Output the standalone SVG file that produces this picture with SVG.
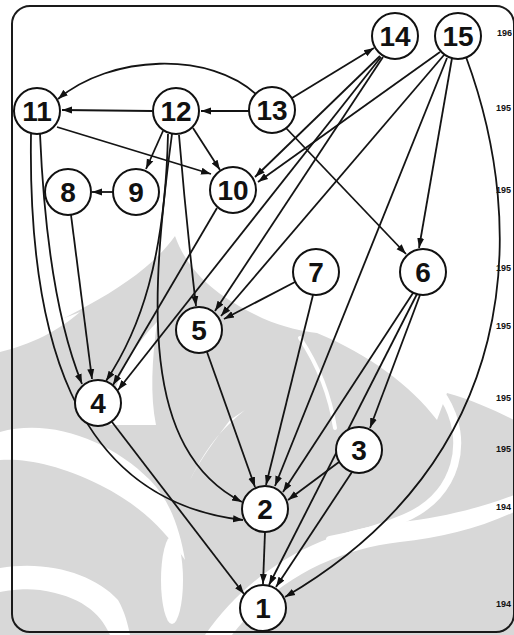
<svg xmlns="http://www.w3.org/2000/svg" width="514" height="635" viewBox="0 0 514 635">
  <style>
    .wm{fill:#d8d8d8}
    .wmw{fill:#fff}
    .wms{fill:none;stroke:#fff;stroke-linecap:round}
    .frame{fill:none;stroke:#1a1a1a;stroke-width:2}
    .node circle{fill:#fff;stroke:#111;stroke-width:2}
    .node text{font-family:"Liberation Sans",Arial,sans-serif;font-weight:700;font-size:28px;text-anchor:middle;fill:#111}
    .edge{fill:none;stroke:#141414;stroke-width:1.8;marker-end:url(#ah)}
    .yr{font-family:"Liberation Sans",Arial,sans-serif;font-weight:700;font-size:9px;fill:#111}
  </style>
  <defs>
    <marker id="ah" viewBox="0 0 10 10" refX="10" refY="5" markerWidth="10" markerHeight="10" markerUnits="userSpaceOnUse" orient="auto">
      <path d="M0,1.5 L10,5 L0,8.5 Z" fill="#111"/>
    </marker>
  </defs>

  <rect width="514" height="635" fill="#fff"/>

  <!-- faint emblem in the background -->
  <g id="watermark">
    <path class="wm" d="M0,350 C70,315 140,285 175,236 C190,278 225,300 262,318 C285,328 302,331 317,333 C370,355 410,385 437,420 L447,393 C472,400 494,410 514,420 L514,635 L0,635 Z"/>
    <!-- light petals cut into the emblem -->
    <path class="wms" stroke-width="4" d="M300,338 C318,365 330,395 335,428"/>
    <path class="wms" stroke-width="8" d="M444,398 C470,440 458,495 405,518 C378,530 352,536 330,540"/>
    <path class="wmw" d="M110,425 C110,385 130,350 157,322 C152,360 150,395 156,425 Z"/>
    <path class="wmw" d="M0,432 C50,418 110,440 150,480 C170,500 180,530 185,560 C165,530 140,505 100,485 C60,465 25,458 0,460 Z"/>
    <path class="wmw" d="M0,568 C50,560 95,575 118,600 C125,612 128,625 130,635 L110,635 C100,612 80,596 40,590 C25,588 10,590 0,592 Z"/>
    <ellipse class="wmw" cx="172" cy="580" rx="11" ry="44"/>
    <path class="wmw" d="M205,635 C250,570 320,530 400,522 C440,518 480,508 514,495 L514,512 C480,528 440,538 400,542 C330,550 270,585 232,635 Z"/>
    <path class="wmw" d="M0,338 C25,330 55,322 80,312 C60,330 30,345 0,352 Z"/>
    <path class="wmw" d="M230,420 C215,440 200,460 190,480 C205,450 220,430 245,410 Z"/>
  </g>

  <rect class="frame" x="12" y="6" width="502" height="626" rx="18"/>

  <g id="years">
    <text class="yr" x="497" y="36">196</text>
    <text class="yr" x="496" y="111">195</text>
    <text class="yr" x="496" y="193">195</text>
    <text class="yr" x="496" y="271">195</text>
    <text class="yr" x="496" y="329">195</text>
    <text class="yr" x="496" y="401">195</text>
    <text class="yr" x="496" y="452">195</text>
    <text class="yr" x="496" y="510">194</text>
    <text class="yr" x="496" y="607">194</text>
  </g>

  <g id="connectors">
    <path class="edge" d="M258,96 C210,50 110,55 58,99"/>
    <path class="edge" d="M152,111 L62,110"/>
    <path class="edge" d="M249,111 L201,111"/>
    <path class="edge" d="M292,98 L374,48"/>
    <path class="edge" d="M57,127 L211,174"/>
    <path class="edge" d="M163,131 L146,169"/>
    <path class="edge" d="M193,128 L220,170"/>
    <path class="edge" d="M113,192 L92,192"/>
    <path class="edge" d="M380,56 L255,177"/>
    <path class="edge" d="M440,52 L258,182"/>
    <path class="edge" d="M286,128 L406,254"/>
    <path class="edge" d="M452,58 L419,248"/>
    <path class="edge" d="M383,57 L215,311"/>
    <path class="edge" d="M444,55 L221,316"/>
    <path class="edge" d="M295,282 L224,319"/>
    <path class="edge" d="M179,135 Q186,220 196,306"/>
    <path class="edge" d="M40,134 C45,250 60,330 82,384"/>
    <path class="edge" d="M71,215 L92,379"/>
    <path class="edge" d="M168,134 C165,260 140,330 106,381"/>
    <path class="edge" d="M217,208 L113,385"/>
    <path class="edge" d="M381,57 L118,390"/>
    <path class="edge" d="M31,134 C28,330 70,500 243,520"/>
    <path class="edge" d="M172,134 C150,300 140,450 242,502"/>
    <path class="edge" d="M207,352 L255,487"/>
    <path class="edge" d="M313,295 L266,485"/>
    <path class="edge" d="M447,58 L275,486"/>
    <path class="edge" d="M413,293 L283,492"/>
    <path class="edge" d="M339,462 L288,500"/>
    <path class="edge" d="M420,295 L370,428"/>
    <path class="edge" d="M112,422 L244,594"/>
    <path class="edge" d="M265,532 L263,584"/>
    <path class="edge" d="M417,294 L269,585"/>
    <path class="edge" d="M352,472 L276,587"/>
    <path class="edge" d="M466,57 C530,230 520,460 285,597"/>
  </g>

  <g id="n1" class="node"><circle cx="263" cy="608" r="23"/><text x="263" y="618">1</text></g>
  <g id="n2" class="node"><circle cx="265" cy="509" r="23"/><text x="265" y="519">2</text></g>
  <g id="n3" class="node"><circle cx="359" cy="450" r="23"/><text x="359" y="460">3</text></g>
  <g id="n4" class="node"><circle cx="98" cy="403" r="23"/><text x="98" y="413">4</text></g>
  <g id="n5" class="node"><circle cx="199" cy="330" r="23"/><text x="199" y="340">5</text></g>
  <g id="n6" class="node"><circle cx="423" cy="272" r="23"/><text x="423" y="282">6</text></g>
  <g id="n7" class="node"><circle cx="316" cy="272" r="23"/><text x="316" y="282">7</text></g>
  <g id="n8" class="node"><circle cx="68" cy="192" r="23"/><text x="68" y="202">8</text></g>
  <g id="n9" class="node"><circle cx="136" cy="192" r="23"/><text x="136" y="202">9</text></g>
  <g id="n10" class="node"><circle cx="233" cy="190" r="23"/><text x="233" y="200">10</text></g>
  <g id="n11" class="node"><circle cx="37" cy="111" r="23"/><text x="37" y="121">11</text></g>
  <g id="n12" class="node"><circle cx="176" cy="111" r="23"/><text x="176" y="121">12</text></g>
  <g id="n13" class="node"><circle cx="272" cy="110" r="23"/><text x="272" y="120">13</text></g>
  <g id="n14" class="node"><circle cx="395" cy="36" r="23"/><text x="395" y="46">14</text></g>
  <g id="n15" class="node"><circle cx="458" cy="36" r="23"/><text x="458" y="46">15</text></g>
</svg>
